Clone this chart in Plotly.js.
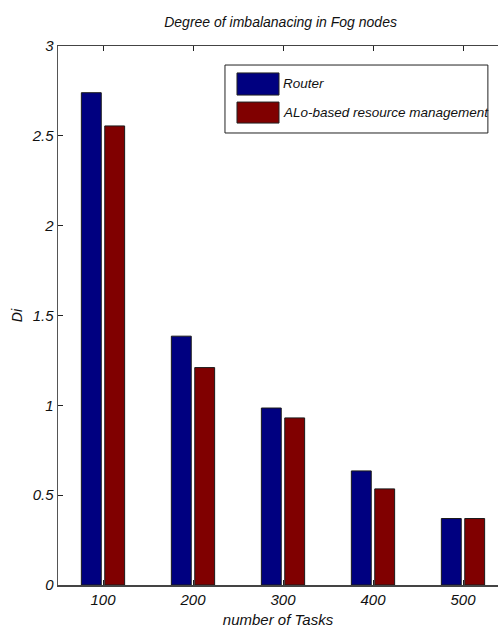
<!DOCTYPE html>
<html>
<head>
<meta charset="utf-8">
<script src="https://cdn.plot.ly/plotly-3.0.1.min.js"></script>
<style>html,body{margin:0;padding:0;background:#fff;}#chart{width:498px;height:637px;}</style>
</head>
<body>
<div id="chart"></div>
<script>
const tasks = ['100', '200', '300', '400', '500'];
const routerValues = [2.74, 1.385, 0.985, 0.635, 0.37];
const aloValues = [2.555, 1.21, 0.93, 0.535, 0.37];
const seriesNames = ['Router', 'ALo-based resource management'];
const yTicks = [0, 0.5, 1, 1.5, 2, 2.5, 3];

const FONT = 'Liberation Sans, Arial, sans-serif';
const colors = ['#000080', '#800000'];

const traces = [routerValues, aloValues].map((vals, i) => ({
  type: 'bar',
  name: seriesNames[i],
  x: tasks,
  y: vals,
  marker: {color: colors[i], line: {color: '#1a1a1a', width: 1}},
  showlegend: false,
  hoverinfo: 'skip'
}));

// custom legend (box, swatches, labels) in paper coordinates
const shapes = [
  {type: 'rect', xref: 'paper', yref: 'paper', x0: 0.3795, x1: 0.977, y0: 0.8386, y1: 0.9647,
   line: {color: '#222', width: 1}, fillcolor: '#fff', layer: 'above'}
];
const annotations = [];
const swY = [[0.950, 0.909], [0.896, 0.857]];
seriesNames.forEach((name, i) => {
  shapes.push({type: 'rect', xref: 'paper', yref: 'paper', x0: 0.4068, x1: 0.5023,
    y0: swY[i][1], y1: swY[i][0], fillcolor: colors[i], line: {color: '#222', width: 1}, layer: 'above'});
  annotations.push({xref: 'paper', yref: 'paper', x: 0.506, y: (swY[i][0] + swY[i][1]) / 2,
    xanchor: 'left', yanchor: 'middle', text: '<i>' + name + '</i>', showarrow: false,
    font: {family: FONT, size: 13.5, color: '#111'}});
});

const layout = {
  width: 498, height: 637,
  margin: {l: 58, r: 0, t: 46, b: 52},
  paper_bgcolor: '#fff', plot_bgcolor: '#fff',
  title: {text: '<i>Degree of imbalanacing in Fog nodes</i>', x: 0.5634, xanchor: 'center', y: 0.965, yanchor: 'middle',
    font: {family: FONT, size: 14, color: '#111'}},
  barmode: 'group', bargap: 0.48, bargroupgap: 0.15,
  xaxis: {
    type: 'category', range: [-0.5, -0.5 + 440 / 90],
    showline: true, linecolor: '#444', linewidth: 1.5, mirror: 'ticks',
    ticks: 'inside', ticklen: 5, tickcolor: '#222', tickwidth: 1,
    showgrid: false, zeroline: false,
    tickfont: {family: FONT, size: 15, color: '#111'},
    ticktext: tasks.map(t => '<i>' + t + '</i>'), tickvals: tasks,
    title: {text: '<i>number of Tasks</i>', font: {family: FONT, size: 15, color: '#111'}, standoff: 8}
  },
  yaxis: {
    range: [0, 3],
    tickvals: yTicks, ticktext: yTicks.map(v => '<i>' + v + '</i>'),
    showline: true, linecolor: '#555', linewidth: 1.5, mirror: false,
    ticks: 'inside', ticklen: 5, tickcolor: '#222', tickwidth: 1,
    showgrid: false, zeroline: false,
    tickfont: {family: FONT, size: 15, color: '#111'},
    title: {text: '<i>Di</i>', font: {family: FONT, size: 14, color: '#111'}, standoff: 5}
  },
  shapes: shapes,
  annotations: annotations
};

Plotly.newPlot('chart', traces, layout, {displayModeBar: false, staticPlot: true});
</script>
</body>
</html>
